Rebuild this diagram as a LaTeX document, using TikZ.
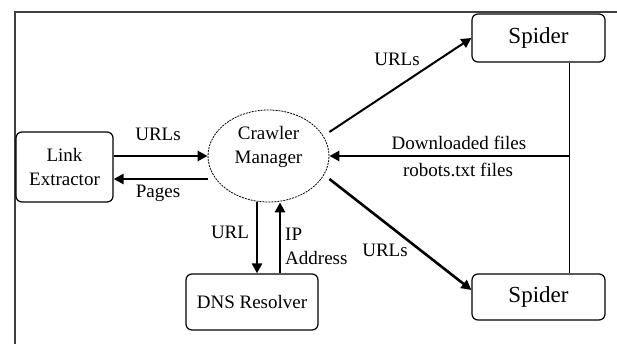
\documentclass[tikz,border=0pt]{standalone}
\usepackage{fontspec}
\setmainfont{Liberation Serif}
\usetikzlibrary{arrows.meta,shapes.geometric}
\begin{document}
\begin{tikzpicture}[x=1pt,y=-1pt,
    box/.style={draw,rounded corners=6pt,line width=1.2pt,align=center,inner sep=0pt},
    arr/.style={line width=2.6pt,-{Triangle[length=10pt,width=10pt]}},
    lbl/.style={inner sep=0pt,align=center},
    font=\fontsize{19}{24}\selectfont]
            % canvas 617 x 344, y grows downwards
			\useasboundingbox (0,0) rectangle (617,344);
            \draw[line width=1.5pt,black!75] (15,344) -- (15,12) -- (617,12);
            % boxes
			\node[box,minimum width=97,minimum height=70] (link) at (64.5,167) {Link\\Extractor};
			\node[draw,ellipse,line width=0.8pt,dash pattern=on 2pt off 1pt,text depth=23pt,
                  minimum width=121,minimum height=92,align=center,inner sep=0pt] (crawler) at (268.5,156) {Crawler\\Manager};
			\node[box,minimum width=132,minimum height=56] (dns) at (252,302) {DNS Resolver};
			\node[box,minimum width=133,minimum height=48,font=\fontsize{23}{26}\selectfont] (spiderA) at (538.5,38) {Spider};
			\node[box,minimum width=133,minimum height=46,font=\fontsize{23}{26}\selectfont] (spiderB) at (538.5,297) {Spider};
            % link extractor <-> crawler manager
            \draw[arr] (link.east |- crawler.west) -- (crawler.west);
            \draw[arr] ([yshift=-23pt]crawler.west) -- ([yshift=-23pt]crawler.west -| link.east);
            % crawler manager <-> dns resolver
            \draw[arr] ([xshift=-11.5pt]crawler.south) -- ([xshift=-11.5pt]crawler.south |- dns.north);
            \draw[arr] ([xshift=11.5pt]crawler.south |- dns.north) -- ([xshift=11.5pt]crawler.south);
            % crawler manager -> spiders
            \draw[line width=2pt,-{Triangle[length=10pt,width=10pt]}] ([yshift=24pt]crawler.east) -- (spiderA.west);
            \draw[arr] ([yshift=-23pt]crawler.east) -- ([yshift=7pt]spiderB.west);
            % spiders -> crawler manager
            \draw[line width=1pt] ([xshift=30.5pt]spiderA.south) -- ([xshift=30.5pt]spiderB.north);
            \draw[arr] ([xshift=30.5pt]spiderA.south |- crawler.east) -- (crawler.east);
            % labels
			\node[lbl] (lurls) at (158,134) {URLs};
			\node[lbl] (lpages) at (158,193) {Pages};
			\node[lbl] (lurl) at (230,232) {URL};
			\node[lbl,anchor=west,align=left] (lip) at (285,246) {IP\\Address};
			\node[lbl] (lurlsA) at (397,59) {URLs};
			\node[lbl] (lurlsB) at (385,250) {URLs};
			\node[lbl] (ldown) at (459,143) {Downloaded files};
			\node[lbl] (lrobots) at (458,170) {robots.txt files};
		\end{tikzpicture}
\end{document}
